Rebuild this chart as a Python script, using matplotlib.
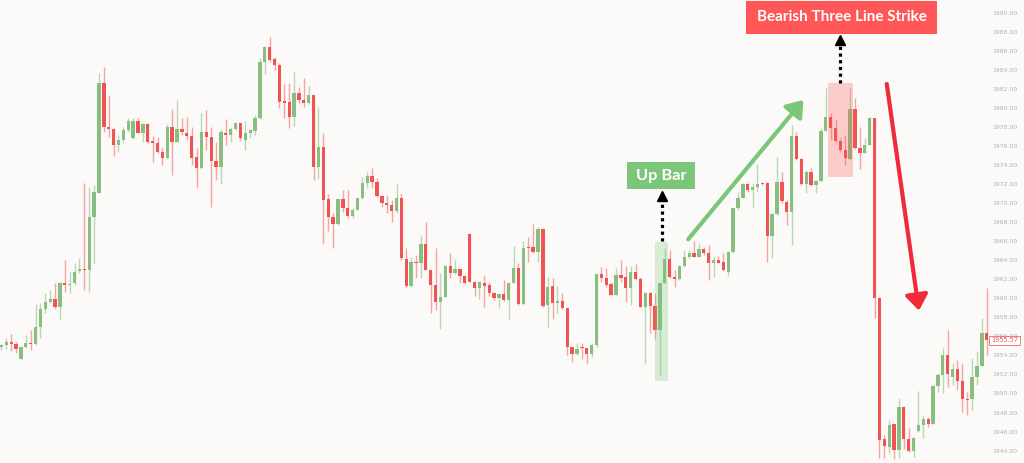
import matplotlib
matplotlib.use('Agg')
import matplotlib.pyplot as plt
from matplotlib.patches import Rectangle

# 蜡烛图数据 (开, 高, 低, 收)
opens = [1954.90, 1955.09, 1955.44, 1955.20, 1953.59, 1954.92, 1955.30, 1955.20, 1957.02, 1958.84,
         1959.64, 1959.89, 1959.05, 1961.57, 1961.36, 1961.57, 1962.86, 1963.04, 1962.95, 1968.57,
         1971.09, 1982.65, 1978.03, 1977.75, 1976.10, 1976.63, 1977.68, 1976.80, 1978.66, 1977.40,
         1978.27, 1976.52, 1976.28, 1975.40, 1974.70, 1978.03, 1976.45, 1977.82, 1977.40, 1977.08,
         1974.84, 1973.65, 1977.43, 1976.91, 1974.42, 1973.79, 1977.33, 1977.15, 1977.75, 1978.38,
         1976.63, 1977.33, 1977.61, 1978.90, 1984.85, 1986.43, 1985.10, 1984.50, 1980.72, 1980.58,
         1979.08, 1981.53, 1980.83, 1980.48, 1981.35, 1973.82, 1975.86, 1970.39, 1968.51, 1967.81,
         1970.40, 1969.52, 1968.65, 1969.28, 1970.50, 1972.08, 1972.85, 1972.18, 1970.75, 1970.05,
         1969.80, 1969.17, 1970.57, 1964.09, 1961.29, 1963.81, 1963.67, 1965.67, 1962.97, 1961.40,
         1959.65, 1960.17, 1963.43, 1962.62, 1963.04, 1962.34, 1966.79, 1961.75, 1961.05, 1961.64,
         1961.40, 1960.52, 1960.00, 1960.45, 1959.82, 1961.64, 1963.15, 1959.37, 1965.36, 1965.36,
         1964.83, 1967.32, 1959.30, 1961.29, 1959.54, 1959.75, 1958.95, 1954.85, 1954.15, 1954.85,
         1954.78, 1954.15, 1955.10, 1962.52, 1962.17, 1961.50, 1960.35, 1962.45, 1962.27, 1961.05,
         1962.80, 1962.03, 1959.12, 1960.59, 1959.22, 1956.67, 1961.57, 1964.09, 1962.27, 1961.99,
         1963.39, 1964.37, 1964.72, 1964.37, 1965.14, 1964.79, 1963.67, 1964.02, 1963.84, 1962.80,
         1964.90, 1969.45, 1970.57, 1972.01, 1971.37, 1971.73, 1972.15, 1972.15, 1966.54, 1968.85,
         1972.25, 1970.15, 1969.10, 1977.05, 1974.60, 1972.01, 1973.30, 1971.90, 1972.29, 1977.61,
         1979.08, 1977.85, 1976.56, 1975.58, 1974.60, 1979.85, 1975.75, 1975.30, 1976.10, 1978.90,
         1960.07, 1945.18, 1944.41, 1946.76, 1944.06, 1948.62, 1945.18, 1943.99, 1946.09, 1946.69,
         1947.29, 1946.80, 1950.79, 1951.94, 1954.04, 1951.70, 1952.54, 1951.35, 1949.46, 1949.39,
         1951.77, 1952.89, 1956.39]
highs = [1955.20, 1955.79, 1956.25, 1955.44, 1954.95, 1956.14, 1956.67, 1959.40, 1959.47, 1960.52,
         1960.87, 1961.57, 1961.74, 1964.02, 1962.79, 1963.67, 1964.20, 1972.07, 1971.72, 1971.90,
         1983.63, 1984.26, 1981.35, 1977.86, 1977.15, 1978.03, 1978.90, 1978.90, 1978.90, 1978.38,
         1978.38, 1977.05, 1976.98, 1975.93, 1978.27, 1979.85, 1980.83, 1978.90, 1979.01, 1978.03,
         1975.75, 1979.43, 1979.78, 1977.96, 1976.38, 1977.78, 1978.80, 1978.03, 1978.45, 1978.45,
         1978.66, 1977.82, 1979.25, 1985.20, 1986.50, 1987.41, 1985.38, 1984.68, 1982.51, 1982.58,
         1983.80, 1982.23, 1983.10, 1982.30, 1981.40, 1980.06, 1977.33, 1970.92, 1968.93, 1970.50,
         1971.38, 1971.38, 1969.45, 1970.55, 1972.78, 1973.30, 1973.65, 1972.60, 1970.85, 1970.85,
         1970.33, 1972.15, 1971.03, 1965.25, 1964.37, 1964.55, 1966.65, 1968.05, 1963.02, 1965.25,
         1962.69, 1963.48, 1964.72, 1964.09, 1963.09, 1962.45, 1966.82, 1961.80, 1961.80, 1962.45,
         1961.75, 1960.70, 1960.52, 1961.92, 1961.70, 1965.50, 1963.68, 1966.06, 1966.41, 1967.81,
         1967.53, 1967.38, 1962.27, 1962.10, 1961.29, 1960.52, 1959.00, 1954.92, 1955.27, 1955.34,
         1954.83, 1955.27, 1962.57, 1963.33, 1963.15, 1961.75, 1963.15, 1964.03, 1963.40, 1963.40,
         1963.61, 1962.27, 1960.65, 1960.65, 1960.59, 1961.62, 1965.25, 1965.07, 1962.97, 1963.45,
         1965.07, 1965.07, 1966.05, 1965.77, 1965.42, 1965.60, 1964.37, 1964.44, 1964.79, 1964.95,
         1969.50, 1971.20, 1972.08, 1972.15, 1972.08, 1974.07, 1972.20, 1972.20, 1968.99, 1974.88,
         1973.30, 1970.33, 1978.20, 1977.50, 1974.70, 1973.48, 1973.65, 1972.43, 1977.85, 1982.05,
         1979.50, 1978.73, 1976.80, 1977.15, 1982.05, 1981.00, 1978.03, 1976.80, 1979.08, 1978.95,
         1960.17, 1945.64, 1947.22, 1946.81, 1949.56, 1948.67, 1946.34, 1945.46, 1950.26, 1947.74,
         1947.57, 1950.90, 1952.12, 1954.74, 1956.67, 1953.24, 1953.52, 1953.17, 1950.19, 1953.69,
         1954.39, 1957.89, 1961.05]
lows = [1954.60, 1954.64, 1954.50, 1954.22, 1953.52, 1954.74, 1954.57, 1955.09, 1955.79, 1958.42,
        1959.47, 1958.84, 1957.72, 1960.69, 1960.52, 1961.39, 1962.62, 1960.87, 1960.69, 1963.67,
        1971.02, 1977.50, 1976.98, 1974.94, 1975.40, 1976.28, 1977.50, 1976.75, 1977.33, 1976.45,
        1976.28, 1974.35, 1975.22, 1974.00, 1974.65, 1972.95, 1976.40, 1977.15, 1976.63, 1974.00,
        1971.55, 1973.60, 1975.57, 1969.62, 1972.42, 1971.97, 1976.10, 1976.45, 1977.68, 1976.56,
        1975.57, 1976.80, 1977.15, 1978.85, 1983.56, 1984.85, 1983.98, 1980.02, 1978.90, 1977.85,
        1978.13, 1980.48, 1980.13, 1980.45, 1972.42, 1972.67, 1965.70, 1967.10, 1965.25, 1967.70,
        1969.10, 1968.40, 1968.40, 1969.25, 1970.45, 1971.55, 1971.55, 1970.68, 1969.63, 1969.00,
        1968.05, 1968.93, 1964.02, 1961.15, 1961.22, 1962.10, 1962.10, 1962.92, 1958.42, 1958.77,
        1956.74, 1960.12, 1962.10, 1962.57, 1961.57, 1961.50, 1961.70, 1960.24, 1959.89, 1959.05,
        1960.24, 1959.82, 1958.95, 1959.75, 1957.72, 1961.57, 1959.30, 1959.32, 1963.85, 1964.73,
        1963.85, 1959.05, 1957.02, 1957.79, 1958.42, 1958.85, 1954.05, 1953.35, 1954.05, 1953.59,
        1953.10, 1953.80, 1954.92, 1961.75, 1961.15, 1960.30, 1960.30, 1961.75, 1959.65, 1959.30,
        1961.92, 1959.05, 1953.10, 1956.32, 1955.69, 1951.94, 1961.52, 1962.10, 1961.22, 1961.94,
        1963.32, 1964.20, 1964.32, 1964.32, 1964.55, 1961.92, 1962.27, 1963.67, 1962.90, 1962.34,
        1964.79, 1969.27, 1970.50, 1971.20, 1969.62, 1971.20, 1971.90, 1963.85, 1964.20, 1968.80,
        1970.05, 1967.70, 1965.60, 1974.53, 1971.90, 1971.09, 1971.80, 1971.09, 1972.25, 1977.55,
        1976.63, 1976.45, 1975.40, 1974.00, 1974.55, 1975.68, 1973.55, 1975.23, 1976.05, 1957.89,
        1943.19, 1943.19, 1943.71, 1943.08, 1943.19, 1944.13, 1943.90, 1943.29, 1945.99, 1945.29,
        1946.52, 1946.75, 1950.19, 1950.09, 1950.72, 1950.89, 1950.37, 1948.09, 1947.74, 1948.27,
        1950.89, 1952.84, 1954.04]
closes = [1955.10, 1955.44, 1955.20, 1954.64, 1954.92, 1955.27, 1955.22, 1957.02, 1958.84, 1959.64,
          1959.89, 1959.05, 1961.57, 1961.39, 1961.50, 1962.79, 1963.04, 1962.95, 1968.57, 1971.20,
          1982.65, 1978.03, 1977.75, 1976.10, 1976.63, 1977.68, 1978.66, 1978.66, 1977.40, 1978.27,
          1976.45, 1976.28, 1975.40, 1974.70, 1978.03, 1976.45, 1977.82, 1977.43, 1977.08, 1974.77,
          1973.65, 1977.43, 1976.91, 1974.42, 1973.75, 1977.43, 1977.15, 1977.75, 1978.38, 1976.87,
          1977.33, 1977.68, 1978.90, 1984.85, 1986.43, 1985.03, 1984.50, 1980.65, 1980.48, 1979.08,
          1981.53, 1980.83, 1980.48, 1981.35, 1973.82, 1975.86, 1970.32, 1968.50, 1967.81, 1970.40,
          1969.52, 1968.65, 1969.28, 1970.50, 1972.08, 1972.85, 1972.18, 1970.75, 1970.05, 1969.80,
          1969.17, 1970.57, 1964.20, 1961.29, 1963.81, 1963.67, 1965.67, 1962.97, 1961.40, 1959.65,
          1960.17, 1963.43, 1962.62, 1963.04, 1962.34, 1961.64, 1961.75, 1961.05, 1961.75, 1961.29,
          1960.52, 1960.00, 1960.45, 1959.82, 1961.64, 1963.15, 1959.37, 1965.32, 1965.30, 1964.83,
          1967.32, 1959.23, 1961.22, 1959.47, 1959.75, 1958.95, 1954.85, 1954.15, 1954.64, 1954.75,
          1954.15, 1955.10, 1962.52, 1962.17, 1961.40, 1960.35, 1962.45, 1962.17, 1961.05, 1962.80,
          1962.03, 1959.12, 1960.59, 1959.19, 1956.67, 1961.57, 1964.09, 1962.20, 1961.99, 1963.39,
          1964.37, 1964.72, 1964.37, 1965.14, 1964.79, 1963.67, 1964.02, 1963.74, 1962.97, 1964.90,
          1969.45, 1970.57, 1972.01, 1971.37, 1971.73, 1972.01, 1972.01, 1966.54, 1968.85, 1972.25,
          1970.25, 1969.10, 1977.05, 1974.60, 1972.01, 1973.30, 1971.90, 1972.36, 1977.61, 1979.08,
          1977.85, 1976.56, 1975.58, 1974.70, 1979.85, 1975.75, 1975.30, 1976.10, 1978.90, 1960.07,
          1945.11, 1944.48, 1946.69, 1944.06, 1948.62, 1945.18, 1943.99, 1945.29, 1946.69, 1947.29,
          1946.80, 1950.79, 1951.94, 1954.04, 1952.05, 1952.54, 1951.35, 1949.39, 1949.36, 1951.77,
          1952.89, 1956.39, 1955.57]

price_ticks = list(range(1944, 1991, 2))
last_price = closes[-1]

# 颜色
bg = '#fcfaf8'
up_body = '#89be82'
down_body = '#f05353'
up_wick = '#b7d8b1'
down_wick = '#f5a3a3'

fig = plt.figure(figsize=(10.24, 4.63), dpi=100, facecolor=bg)
ax = fig.add_axes([0, 0, 1, 1], facecolor=bg)

x = list(range(len(opens)))
bottoms = [min(o, c) for o, c in zip(opens, closes)]
heights = [max(abs(c - o), 0.1) for o, c in zip(opens, closes)]
body_colors = [up_body if c >= o else down_body for o, c in zip(opens, closes)]
wick_colors = [up_wick if c >= o else down_wick for o, c in zip(opens, closes)]

# 影线 + 实体
ax.vlines(x, lows, highs, colors=wick_colors, linewidth=1.0, zorder=2)
ax.bar(x, heights, bottom=bottoms, width=0.68, color=body_colors, linewidth=0, zorder=3)

ax.set_xlim(-0.29, 209.64)
ax.set_ylim(1942.70, 1991.33)

# 右侧价格刻度
ax.set_yticks(price_ticks)
ax.set_yticklabels(['%.2f' % p for p in price_ticks])
ax.yaxis.tick_right()
ax.tick_params(axis='y', length=0, pad=-22.5, labelsize=4.4, labelcolor='#b0b0b0')
ax.set_xticks([])
for s in ax.spines.values():
    s.set_visible(False)

ax.text(1004.5 / 1024, last_price, '%.2f' % last_price, transform=ax.get_yaxis_transform(),
        ha='center', va='center', fontsize=4.7, color='#e8595c', zorder=6,
        bbox=dict(boxstyle='square,pad=0.25', facecolor='white', edgecolor='#f07c7e', linewidth=0.7))

label_font = ['Lato', 'DejaVu Sans']

# Up Bar 标注
ax.add_patch(Rectangle((134.0, 1951.34), 2.65, 14.61, facecolor='#7dc57a', alpha=0.28,
                       linewidth=0, zorder=4))
ax.plot([135.4, 135.4], [1966.0, 1970.5], color='black', linewidth=2.3,
        linestyle=(0, (1, 1.1)), zorder=5)
ax.plot(135.4, 1970.7, marker='^', markersize=6.5, color='black', zorder=5)
ax.add_patch(Rectangle((128.25, 1971.48), 13.95, 2.8, facecolor='#7cc67a', linewidth=0, zorder=5))
ax.text(135.2, 1972.88, 'Up Bar', ha='center', va='center', fontsize=11.8, fontweight='bold',
        color='white', family=label_font, zorder=6)
ax.annotate('', xy=(164.4, 1980.83), xytext=(140.8, 1966.2), zorder=5,
            arrowprops=dict(arrowstyle='-|>,head_length=0.55,head_width=0.4', color='#7cc67a',
                            lw=3, shrinkA=0, shrinkB=0, mutation_scale=17))

# Bearish Three Line Strike 标注
ax.add_patch(Rectangle((169.45, 1972.71), 5.06, 9.87, facecolor='#ff5757', alpha=0.28,
                       linewidth=0, zorder=4))
ax.plot([172.0, 172.0], [1982.6, 1987.0], color='black', linewidth=2.3,
        linestyle=(0, (1, 1.1)), zorder=5)
ax.plot(172.0, 1987.15, marker='^', markersize=6.5, color='black', zorder=5)
ax.add_patch(Rectangle((152.65, 1987.76), 39.2, 3.5, facecolor='#ff5757', linewidth=0, zorder=5))
ax.text(172.25, 1989.51, 'Bearish Three Line Strike', ha='center', va='center', fontsize=11,
        fontweight='bold', color='white', family=label_font, zorder=6)
ax.annotate('', xy=(188.1, 1958.70), xytext=(181.5, 1982.51), zorder=5,
            arrowprops=dict(arrowstyle='-|>,head_length=0.55,head_width=0.4', color='#ef2b3a',
                            lw=3, shrinkA=0, shrinkB=0, mutation_scale=17))

fig.savefig('out.png', dpi=100, facecolor=bg)
